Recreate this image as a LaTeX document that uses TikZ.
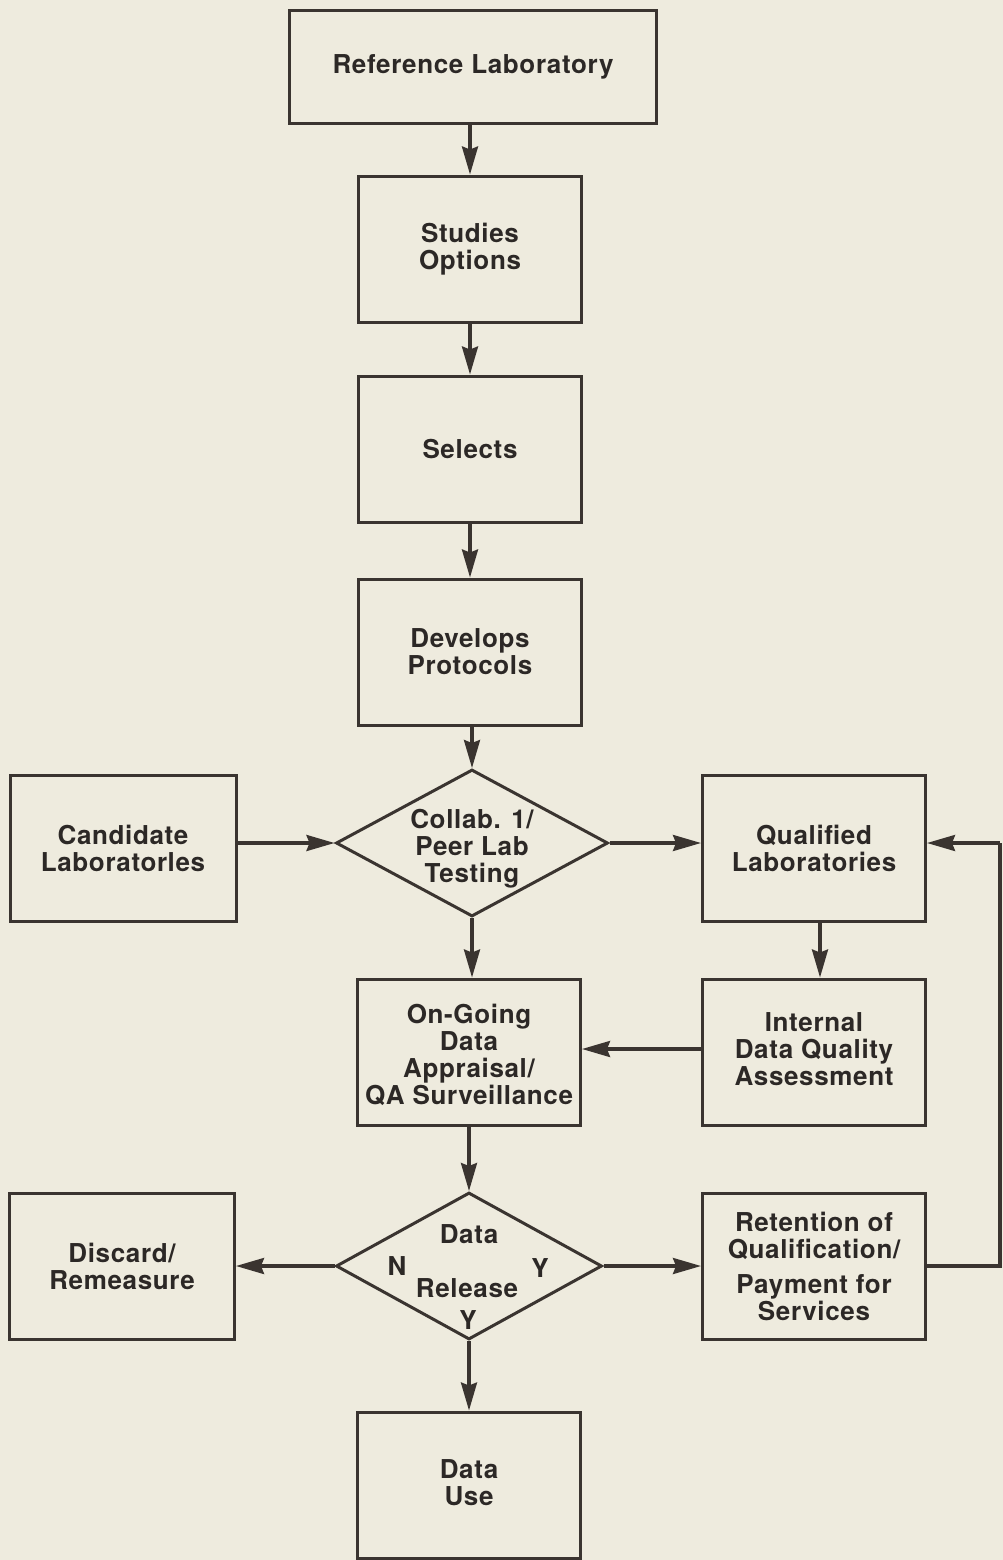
\documentclass[tikz,border=0pt]{standalone}
\usepackage{fontspec}
\setmainfont{TeX Gyre Heros}[LetterSpace=2.5]
\usetikzlibrary{arrows.meta,shapes.geometric,calc}
\definecolor{paper}{RGB}{238,235,222}
\definecolor{ink}{RGB}{58,52,48}
\definecolor{txt}{RGB}{44,40,38}
\begin{document}
\begin{tikzpicture}[x=1pt,y=-1pt,
  every node/.style={font=\fontsize{26}{27}\selectfont\bfseries, text=txt, align=center},
  box/.style={draw=ink, line width=3pt, minimum width=223pt, minimum height=146pt, inner sep=0pt},
  dec/.style={draw=ink, line width=3pt, diamond, minimum width=272pt, minimum height=147pt, inner sep=0pt},
  flow/.style={draw=ink, line width=3.2pt, -{Stealth[length=28pt,width=16pt,inset=3pt]}},
  link/.style={draw=ink, line width=3.2pt}
]
% page
\fill[paper] (0,0) rectangle (1003,1560);
\useasboundingbox (0,0) rectangle (1003,1560);

% main column
\node[box, minimum width=367pt, minimum height=113pt] (ref) at (473,67) {Reference Laboratory};
\node[box] (studies) at (470,249) {Studies\\Options};
\node[box] (selects) at (470,449) {Selects};
\node[box] (protocols) at (470,652) {Develops\\Protocols};
\node[dec] (collab) at (472,843) {};
\node (collabtxt) at (472,849) {Collab. 1/\\Peer Lab\\Testing};
\node[box] (ongoing) at (469,1052) {};
\node (ongoingtxt) at (469,1055) {On-Going\\Data\\Appraisal/\\QA Surveillance};
\node[dec, minimum width=266pt] (release) at (469,1266) {};
\node (releasedata) at (469,1234) {Data};
\node (releasetxt) at (467,1288) {Release};
\node (nolab) at (397,1266) {N};
\node (yeslabr) at (540,1268) {Y};
\node (yeslabb) at (468,1320) {Y};
\node[box] (datause) at (469,1485) {};
\node (datausetxt) at (469,1483) {Data\\Use};

% side boxes
\node[box, minimum width=226pt] (cand) at (123,848) {Candidate\\Laboratorles};
\node[box] (qual) at (814,848) {Qualified\\Laboratories};
\node[box] (internal) at (814,1052) {};
\node (internaltxt) at (814,1049) {Internal\\Data Quality\\Assessment};
\node[box, minimum width=225pt] (discard) at (122,1266) {Discard/\\Remeasure};
\node[box] (retain) at (814,1266) {Retention of\\Qualification/\\[8pt]Payment for\\Services};

\coordinate (fbbot) at (1000,1266);
\coordinate (fbtop) at (1000,843);

% connectors
\draw[flow] (studies.north |- ref.south) -- (studies.north);
\draw[flow] (studies) -- (selects);
\draw[flow] (selects) -- (protocols);
\draw[flow] (collab.north |- protocols.south) -- (collab.north);
\draw[flow] (cand.east |- collab.west) -- (collab.west);
\draw[flow] (collab.east) -- (qual.west |- collab.east);
\draw[flow] (collab.south) -- (ongoing.north -| collab.south);
\draw[flow] (qual.south -| 820,0) -- (internal.north -| 820,0);
\draw[flow] (internal.west |- 0,1049) -- (ongoing.east |- 0,1049);
\draw[flow] (ongoing.south) -- (release.north);
\draw[flow] (release.west) -- (discard.east |- release.west);
\draw[flow] (release.east) -- (retain.west |- release.east);
\draw[flow] (release.south) -- (datause.north);
\draw[link] (retain.east) -- (fbbot) -- (fbtop);
\draw[flow] (fbtop) -- (qual.east |- fbtop);
\end{tikzpicture}
\end{document}
